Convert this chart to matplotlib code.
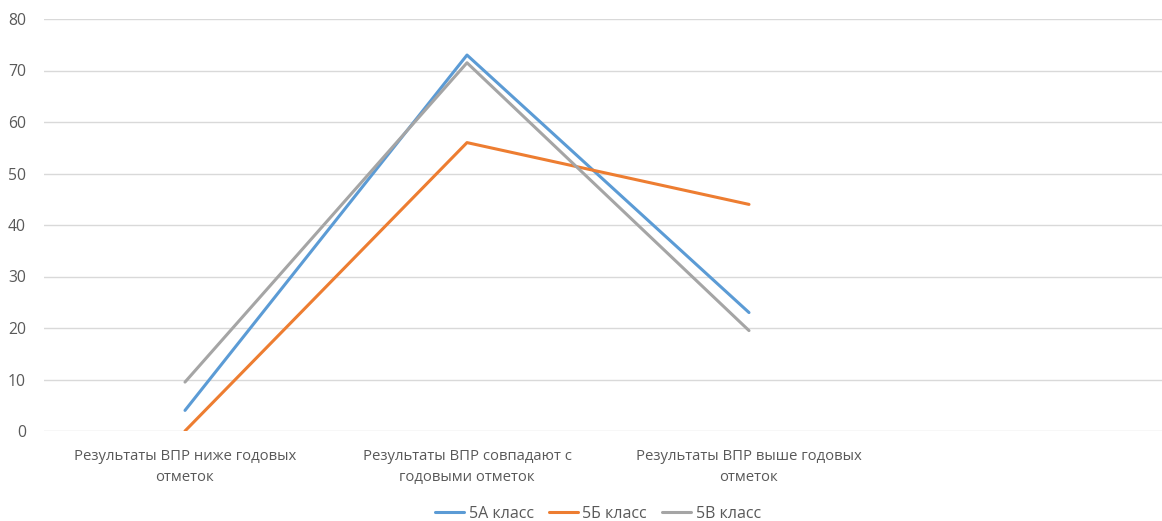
import matplotlib
matplotlib.use("Agg")
import matplotlib.pyplot as plt

# data
CATEGORIES = [
    "Результаты ВПР ниже годовых\nотметок",
    "Результаты ВПР совпадают с\nгодовыми отметок",
    "Результаты ВПР выше годовых\nотметок",
    "",
]
SERIES_NAMES = ["5А класс", "5Б класс", "5В класс"]
CLASS_5A = [4, 73, 23]
CLASS_5B = [0, 56, 44]
CLASS_5V = [9.5, 71.5, 19.5]
Y_TICKS = [0, 10, 20, 30, 40, 50, 60, 70, 80]

COLORS = ["#5B9BD5", "#ED7D31", "#A5A5A5"]
TEXT = "#595959"

W, H = 1162, 521


def main():
    plt.rcParams["font.family"] = ["Open Sans", "DejaVu Sans"]
    fig = plt.figure(figsize=(W / 100, H / 100), dpi=100)
    # axes run past the right edge, like the cropped original
    ax = fig.add_axes([44 / W, 90 / H, 1128 / W, 412 / H])

    xs = list(range(len(CATEGORIES)))
    for name, vals, color in zip(SERIES_NAMES, [CLASS_5A, CLASS_5B, CLASS_5V], COLORS):
        ax.plot(xs[:len(vals)], vals, color=color, linewidth=2.2, label=name,
                solid_capstyle="round")

    ax.set_xlim(-0.5, len(CATEGORIES) - 0.5)
    ax.set_ylim(0, 80)
    ax.set_yticks(Y_TICKS)
    ax.set_xticks(xs)
    ax.set_xticklabels(CATEGORIES, fontsize=10.7, color=TEXT, linespacing=1.55)
    ax.tick_params(axis="y", labelsize=11.3, labelcolor=TEXT, length=0, pad=13)
    ax.tick_params(axis="x", length=0, pad=13)
    ax.grid(axis="y", color="#D9D9D9", linewidth=1)
    ax.set_axisbelow(True)
    for s in ax.spines.values():
        s.set_visible(False)

    fig.legend(loc="center", bbox_to_anchor=(598 / W, 7 / H), ncol=3, frameon=False,
               fontsize=11.5, labelcolor=TEXT, handlelength=1.8, handletextpad=0.3,
               columnspacing=0.95)

    fig.savefig("out.png", dpi=100)
    plt.close(fig)


if __name__ == "__main__":
    main()
